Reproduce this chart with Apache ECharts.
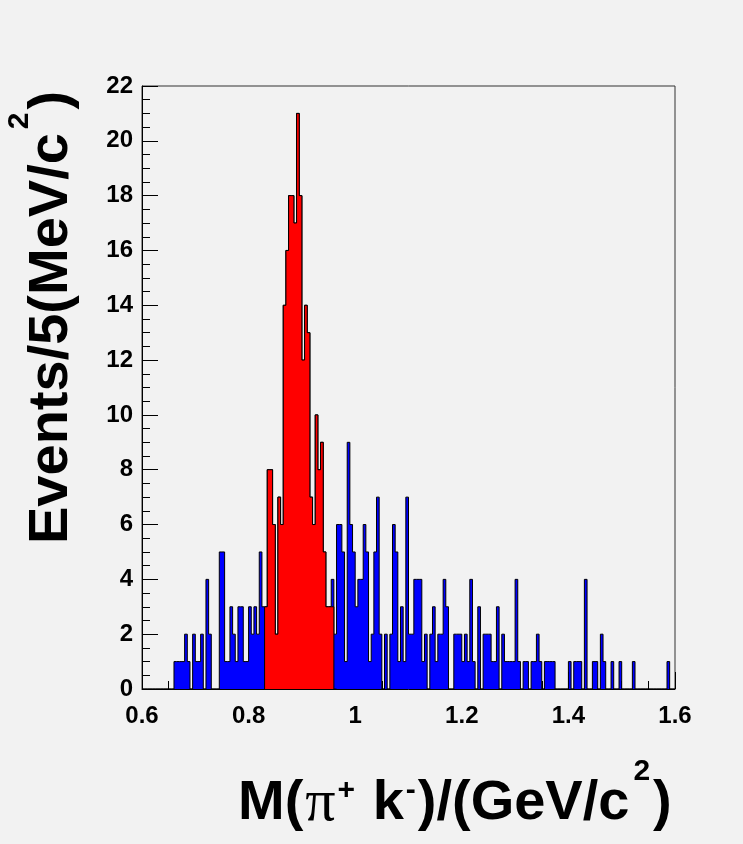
<!DOCTYPE html>
<html><head><meta charset="utf-8">
<script src="https://cdn.jsdelivr.net/npm/echarts@6/dist/echarts.min.js"></script>
<style>html,body{margin:0;padding:0;background:#f2f2f2;} #c{width:743px;height:844px;}</style>
</head><body><div id="c"></div>
<script>
// Histogram: 200 bins of 5 MeV from 0.6 to 1.6 GeV
const binLow = 0.6;
const binWidth = 0.005;
// all entries (blue), one value per bin
const blueCounts = [
  0,0,0,0,0,0,0,0,0,0, 0,0,0,1,1,1,1,2,1,0,
  2,1,1,2,0,4,2,0,0,0, 5,5,1,1,3,2,1,3,3,1,
  1,3,2,3,2,5,3,3,8,8, 6,2,7,6,14,16,18,18,17,21,
  18,12,14,13,7,6,10,8,9,5, 3,3,4,2,6,6,5,1,9,6,
  5,3,4,4,6,5,1,2,5,7, 2,0,2,0,2,6,5,1,3,1,
  7,2,2,4,4,4,1,2,0,2, 3,1,2,2,4,3,0,0,2,2,
  2,1,2,1,4,1,0,3,0,2, 2,2,1,1,3,0,2,1,1,1,
  1,4,1,0,1,1,0,1,1,2, 1,0,1,1,1,1,0,0,0,0,
  0,1,0,1,1,1,0,4,0,0, 1,1,0,2,1,0,0,1,0,0,
  1,0,0,0,0,1,0,0,0,0, 0,0,0,0,0,0,0,0,1,0
];
// K* window (red), starting at bin 46 (0.83 GeV)
const redFirstBin = 46;
const redCounts = [3,3,8,8,6,2,7,6,14,16,18,18,17,21,18,12,14,13,7,6,10,8,9,5,3,3,3];

function stepData(counts, startEdge) {
  const pts = [[startEdge, 0]];
  counts.forEach((c, i) => pts.push([+(startEdge + i * binWidth).toFixed(4), c]));
  pts.push([+(startEdge + counts.length * binWidth).toFixed(4), 0]);
  return pts;
}

const FONT = 'Liberation Sans';
const richMain = {fontFamily: FONT, fontWeight: 'bold', fontSize: 56, lineHeight: 94, verticalAlign: 'middle', fill: '#000', color: '#000'};
const richSup = {fontFamily: FONT, fontWeight: 'bold', fontSize: 30, verticalAlign: 'top', padding: [0, 3, 0, 4], fill: '#000', color: '#000'};
const richPm = {fontFamily: FONT, fontWeight: 'bold', fontSize: 30, verticalAlign: 'top', padding: [19, 2, 0, 2], fill: '#000', color: '#000'};
const richPi = {fontFamily: 'Liberation Serif', fontWeight: 'normal', fontSize: 60, lineHeight: 94, verticalAlign: 'middle', padding: [0, 0, 0, 2], fill: '#000', color: '#000'};

const chart = echarts.init(document.getElementById('c'), null, {renderer: 'canvas'});
chart.setOption({
  animation: false,
  backgroundColor: '#f2f2f2',
  grid: {left: 142, top: 86, right: 68, bottom: 155, show: true, borderColor: '#333', borderWidth: 1, backgroundColor: 'transparent', outerBoundsMode: 'none'},
  xAxis: {
    type: 'value', min: 0.6, max: 1.6, interval: 0.2,
    axisLine: {show: true, onZero: false, lineStyle: {color: '#000', width: 1}},
    axisTick: {show: true, inside: true, length: 17, lineStyle: {color: '#000', width: 1}},
    minorTick: {show: true, splitNumber: 4, length: 8, lineStyle: {color: '#000', width: 1}},
    splitLine: {show: false}, minorSplitLine: {show: false},
    axisLabel: {fontFamily: FONT, fontWeight: 'bold', fontSize: 24, color: '#000', margin: 15, showMinLabel: true, showMaxLabel: true}
  },
  yAxis: {
    type: 'value', min: 0, max: 22, interval: 2,
    axisLine: {show: true, lineStyle: {color: '#000', width: 1}},
    axisTick: {show: true, inside: true, length: 16, lineStyle: {color: '#000', width: 1}},
    minorTick: {show: true, splitNumber: 4, length: 8, lineStyle: {color: '#000', width: 1}},
    splitLine: {show: false}, minorSplitLine: {show: false},
    axisLabel: {fontFamily: FONT, fontWeight: 'bold', fontSize: 24, color: '#000', margin: 9}
  },
  series: [
    {type: 'line', step: 'start', data: stepData(blueCounts, binLow), showSymbol: false, symbol: 'none',
     lineStyle: {color: '#000', width: 1}, areaStyle: {color: '#0000ff', opacity: 1}, silent: true, z: 2},
    {type: 'line', step: 'start', data: stepData(redCounts, +(binLow + redFirstBin * binWidth).toFixed(4)), showSymbol: false, symbol: 'none',
     lineStyle: {color: '#000', width: 1}, areaStyle: {color: '#ff0000', opacity: 1}, silent: true, z: 3}
  ],
  graphic: [
    {type: 'text', x: 238, y: 804, z: 10,
     style: {text: '{m|M(}{pi|π}{p|+}{m| k}{p|-}{m|)/(GeV/c}{s|2}{m|)}', rich: {m: richMain, s: richSup, p: richPm, pi: richPi},
             align: 'left', verticalAlign: 'middle', fill: '#000'}},
    {type: 'text', x: 52, y: 544, rotation: Math.PI / 2, z: 10,
     style: {text: '{m|Events/5(MeV/c}{s|2}{m|)}', rich: {m: richMain, s: richSup},
             align: 'left', verticalAlign: 'middle', fill: '#000'}}
  ]
});
</script></body></html>
